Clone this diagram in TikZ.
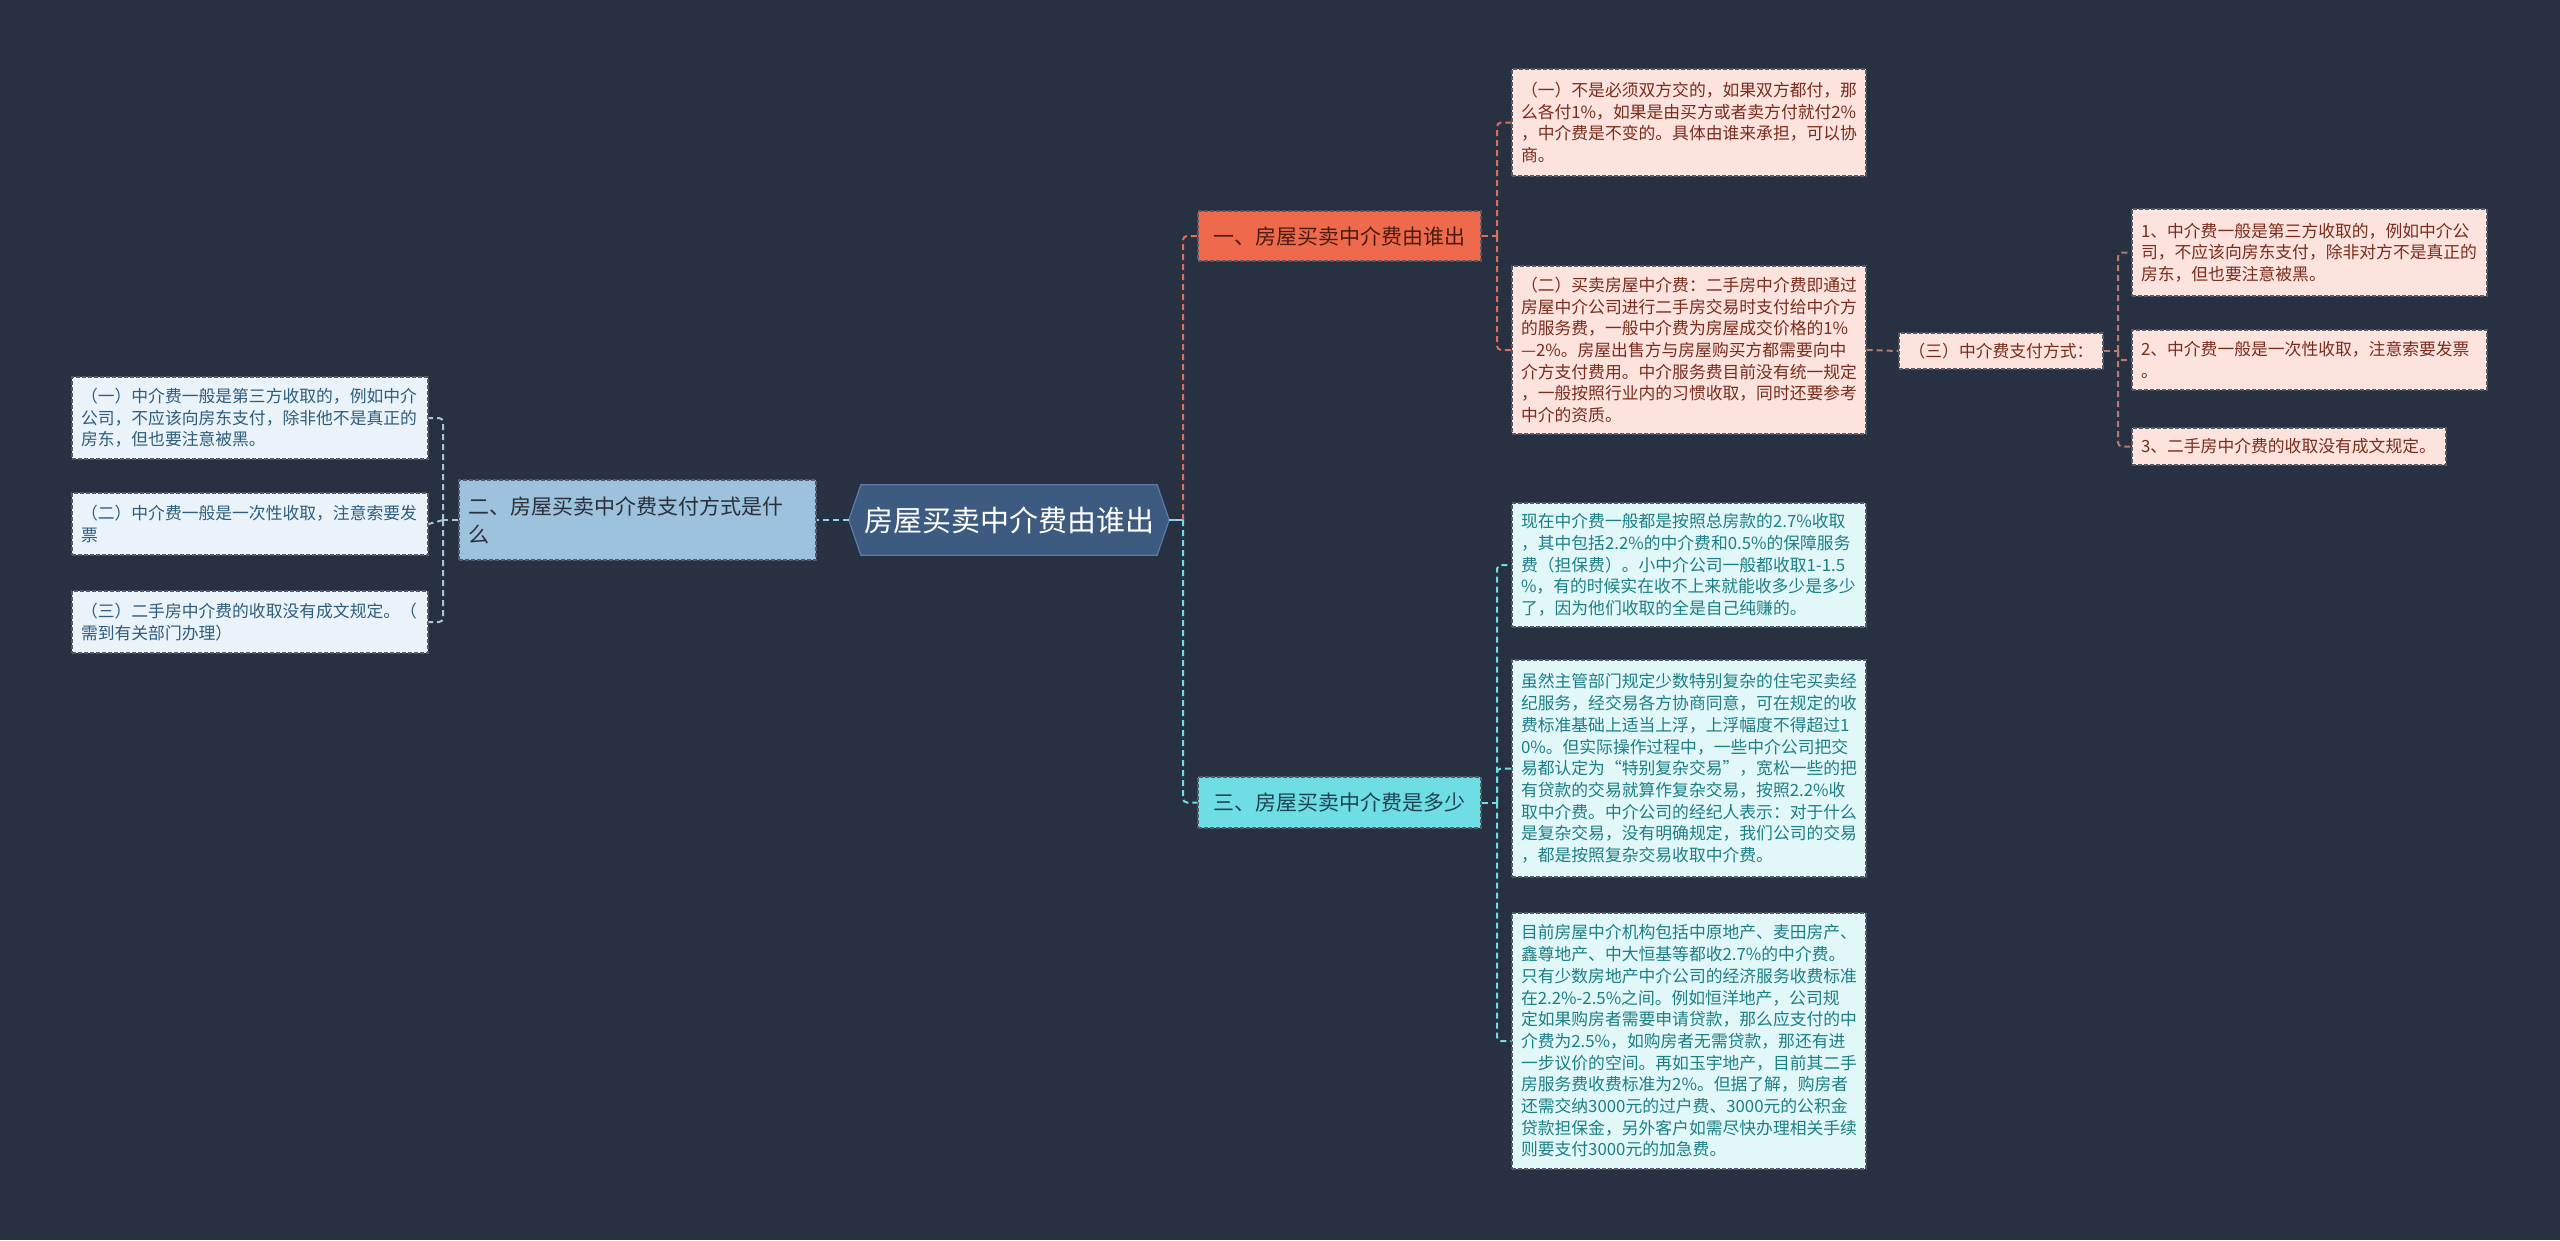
\documentclass[tikz,border=0pt]{standalone}
\usepackage{fontspec}
\setmainfont{Noto Sans CJK SC}
\usetikzlibrary{backgrounds}
\definecolor{bg}{HTML}{283141}
\definecolor{cfill}{HTML}{3D5A80}
\definecolor{cdraw}{HTML}{5B7BA6}
\definecolor{lnfill}{HTML}{9CC2DD}
\definecolor{lnt}{HTML}{2A2F38}
\definecolor{llfill}{HTML}{EAF3F9}
\definecolor{llt}{HTML}{2E5D7E}
\definecolor{lline}{HTML}{A9C6DB}
\definecolor{cline}{HTML}{8FD3E6}
\definecolor{b1fill}{HTML}{EF6A4C}
\definecolor{b1t}{HTML}{4A1C10}
\definecolor{rfill}{HTML}{FCE3DD}
\definecolor{rt}{HTML}{7A2C1C}
\definecolor{rline}{HTML}{D9705A}
\definecolor{rrline}{HTML}{B87A6C}
\definecolor{b3fill}{HTML}{6EDEE4}
\definecolor{b3t}{HTML}{1D4450}
\definecolor{tfill}{HTML}{E1F7F8}
\definecolor{tt}{HTML}{1C7F86}
\definecolor{tline}{HTML}{6EDEE4}
\definecolor{bord}{HTML}{555B66}
\newcommand\leaffont{\fontsize{16.8}{21.7}\selectfont}
\newcommand\branchfont{\fontsize{21}{28}\selectfont}
\newcommand\centerfont{\fontsize{29}{34}\selectfont}
\tikzset{
  boxbase/.style={rectangle, inner xsep=9pt, inner ysep=0pt, align=left,
    draw=bord, dash pattern=on 4pt off 2pt, line width=1.2pt},
  lleaf/.style={boxbase, fill=llfill, text=llt, font=\leaffont},
  rleaf/.style={boxbase, fill=rfill, text=rt, font=\leaffont},
  tleaf/.style={boxbase, fill=tfill, text=tt, font=\leaffont},
  lnode/.style={boxbase, fill=lnfill, text=lnt, font=\branchfont},
  bone/.style={boxbase, fill=b1fill, text=b1t, font=\branchfont, align=center},
  bthree/.style={boxbase, fill=b3fill, text=b3t, font=\branchfont, align=center},
  conn/.style={line width=2pt, dash pattern=on 6pt off 4pt, rounded corners=4pt},
  hexnode/.style={rectangle, minimum width=320pt, minimum height=70pt, inner sep=0pt,
    text=white, font=\centerfont},
}
\begin{document}
\begin{tikzpicture}[x=1pt,y=-1pt]
\useasboundingbox (0,0) rectangle (2560,1240);
\begin{pgfonlayer}{background}
\fill[bg] (0,0) rectangle (2560,1240);
\end{pgfonlayer}

% central
\node[hexnode] (c) at (1009,520) {房屋买卖中介费由谁出};
\begin{pgfonlayer}{background}
\filldraw[fill=cfill, draw=cdraw, line width=1.2pt]
  ([xshift=12pt]c.north west) -- ([xshift=-12pt]c.north east) -- (c.east)
  -- ([xshift=-12pt]c.south east) -- ([xshift=12pt]c.south west) -- (c.west) -- cycle;
\end{pgfonlayer}

% left branch
\node[lnode, text width=339pt, minimum height=80pt] (ln) at (637.5,520)
  {二、房屋买卖中介费支付方式是什\\么};
\node[lleaf, text width=338pt, minimum height=82pt] (l1) at (250,418)
  {（一）中介费一般是第三方收取的，例如中介\\公司，不应该向房东支付，除非他不是真正的\\房东，但也要注意被黑。};
\node[lleaf, text width=338pt, minimum height=62pt] (l2) at (250,524)
  {（二）中介费一般是一次性收取，注意索要发\\票};
\node[lleaf, text width=338pt, minimum height=62pt] (l3) at (250,622)
  {（三）二手房中介费的收取没有成文规定。（\\需到有关部门办理）};

% branch one
\node[bone, minimum width=283pt, minimum height=50pt] (b1) at (1339.5,236)
  {一、房屋买卖中介费由谁出};
\node[rleaf, text width=336pt, minimum height=107pt] (r1a) at (1689,122.5)
  {（一）不是必须双方交的，如果双方都付，那\\么各付1\%，如果是由买方或者卖方付就付2\%\\，中介费是不变的。具体由谁来承担，可以协\\商。};
\node[rleaf, text width=336pt, minimum height=168pt] (r1b) at (1689,350)
  {（二）买卖房屋中介费：二手房中介费即通过\\房屋中介公司进行二手房交易时支付给中介方\\的服务费，一般中介费为房屋成交价格的1\%\\—2\%。房屋出售方与房屋购买方都需要向中\\介方支付费用。中介服务费目前没有统一规定\\，一般按照行业内的习惯收取，同时还要参考\\中介的资质。};
\node[rleaf, align=center, minimum width=204pt, minimum height=36pt] (p3) at (2001,351)
  {（三）中介费支付方式：};
\node[rleaf, text width=337pt, minimum height=87pt] (s1) at (2309.5,252.5)
  {1、中介费一般是第三方收取的，例如中介公\\司，不应该向房东支付，除非对方不是真正的\\房东，但也要注意被黑。};
\node[rleaf, text width=337pt, minimum height=60pt] (s2) at (2309.5,360)
  {2、中介费一般是一次性收取，注意索要发票\\。};
\node[rleaf, text width=296pt, minimum height=37pt] (s3) at (2289,446.5)
  {3、二手房中介费的收取没有成文规定。};

% branch three
\node[bthree, minimum width=283pt, minimum height=51pt] (b3) at (1339.5,802.5)
  {三、房屋买卖中介费是多少};
\node[tleaf, text width=336pt, minimum height=124pt] (t1) at (1689,565)
  {现在中介费一般都是按照总房款的2.7\%收取\\，其中包括2.2\%的中介费和0.5\%的保障服务\\费（担保费）。小中介公司一般都收取1-1.5\\\%，有的时候实在收不上来就能收多少是多少\\了，因为他们收取的全是自己纯赚的。};
\node[tleaf, text width=336pt, minimum height=217pt] (t2) at (1689,768.5)
  {虽然主管部门规定少数特别复杂的住宅买卖经\\纪服务，经交易各方协商同意，可在规定的收\\费标准基础上适当上浮，上浮幅度不得超过1\\0\%。但实际操作过程中，一些中介公司把交\\易都认定为“特别复杂交易”，宽松一些的把\\有贷款的交易就算作复杂交易，按照2.2\%收\\取中介费。中介公司的经纪人表示：对于什么\\是复杂交易，没有明确规定，我们公司的交易\\，都是按照复杂交易收取中介费。};
\node[tleaf, text width=336pt, minimum height=256pt] (t3) at (1689,1041)
  {目前房屋中介机构包括中原地产、麦田房产、\\鑫尊地产、中大恒基等都收2.7\%的中介费。\\只有少数房地产中介公司的经济服务收费标准\\在2.2\%-2.5\%之间。例如恒洋地产，公司规\\定如果购房者需要申请贷款，那么应支付的中\\介费为2.5\%，如购房者无需贷款，那还有进\\一步议价的空间。再如玉宇地产，目前其二手\\房服务费收费标准为2\%。但据了解，购房者\\还需交纳3000元的过户费、3000元的公积金\\贷款担保金，另外客户如需尽快办理相关手续\\则要支付3000元的加急费。};

% junctions
\coordinate (jR) at (1183,520);
\coordinate (jL) at (443,520);
\coordinate (j1) at (1497,236);
\coordinate (j3) at (1497,802.5);
\coordinate (jp) at (2118,351);

% connectors
\draw[cline, line width=2pt] (c.east) -- (jR);
\draw[rline, conn] (jR) |- (b1.west);
\draw[tline, conn] (jR) |- (b3.west);
\draw[cline, conn] (c.west) -- (ln.east);
\draw[lline, conn] (ln.west) -- (jL);
\draw[lline, conn] (jL) |- (l1.east);
\draw[lline, conn] (jL) -- (l2.east);
\draw[lline, conn] (jL) |- (l3.east);

\draw[rline, conn] (b1.east) -- (j1);
\draw[rline, conn] (j1) |- (r1a.west);
\draw[rline, conn] (j1) |- (r1b.west);
\draw[rrline, conn] (r1b.east) -- (p3.west);
\draw[rrline, conn] (p3.east) -- (jp);
\draw[rrline, conn] (jp) |- (s1.west);
\draw[rrline, conn] (jp) |- (s2.west);
\draw[rrline, conn] (jp) |- (s3.west);

\draw[tline, conn] (b3.east) -- (j3);
\draw[tline, conn] (j3) |- (t1.west);
\draw[tline, conn] (j3) |- (t2.west);
\draw[tline, conn] (j3) |- (t3.west);
\end{tikzpicture}
\end{document}
